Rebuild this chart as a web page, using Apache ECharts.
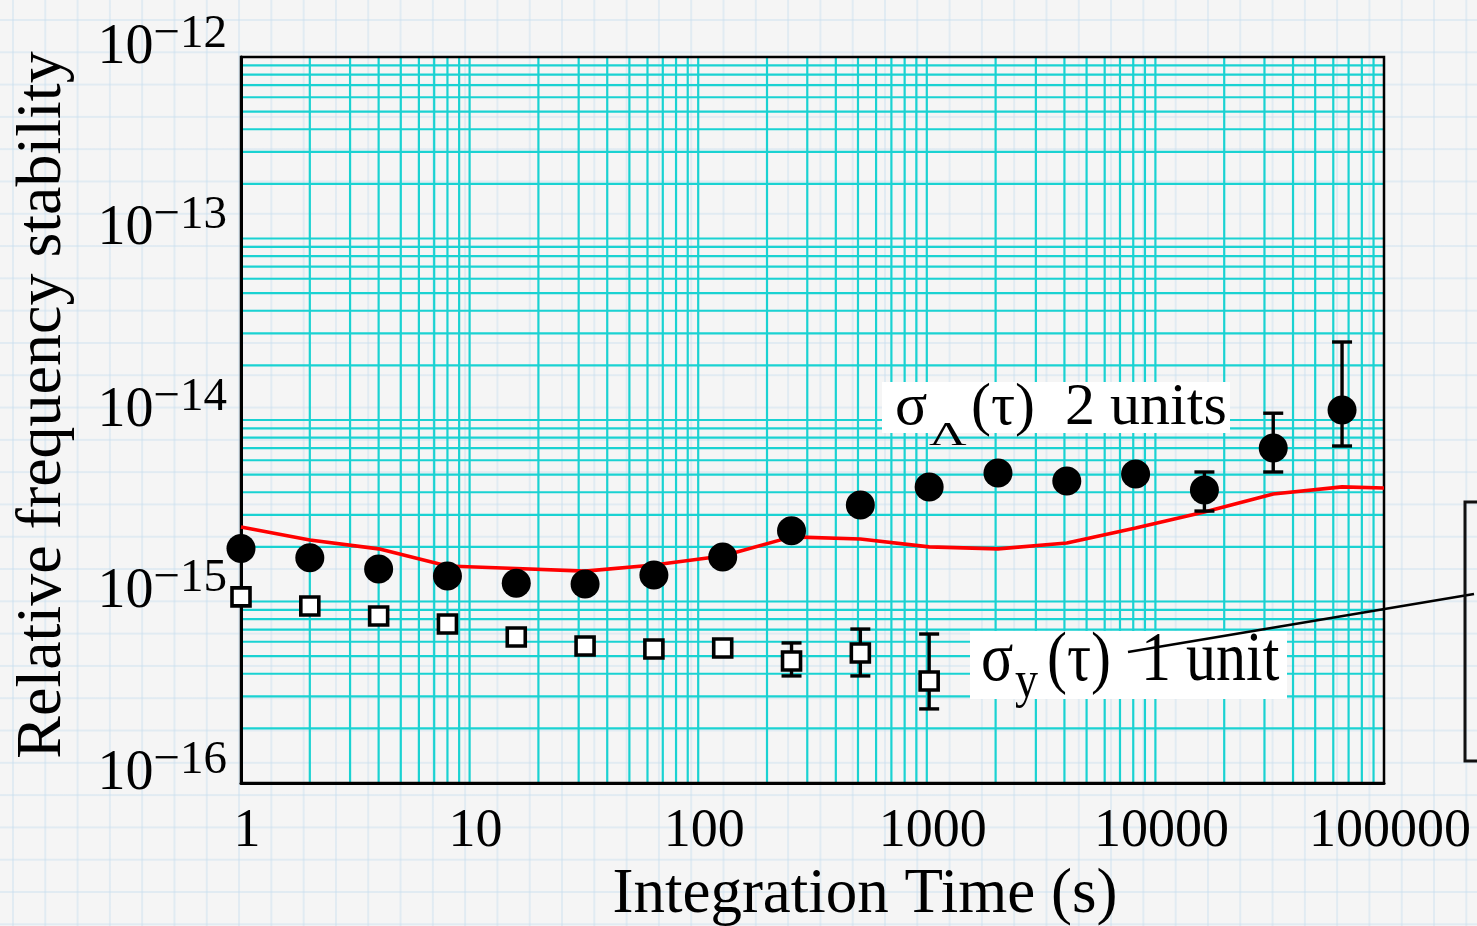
<!DOCTYPE html>
<html><head><meta charset="utf-8">
<script src="https://cdn.jsdelivr.net/npm/echarts@6/dist/echarts.min.js"></script>
<style>
html,body{margin:0;padding:0;}
body{width:1477px;height:926px;overflow:hidden;background-color:#f5f5f5;
background-image:
 linear-gradient(to right, rgba(200,222,238,0.45) 2px, transparent 2px),
 linear-gradient(to bottom, rgba(200,222,238,0.45) 2px, transparent 2px);
background-size:32.3px 32.3px; background-position:12px 19px;}
#chart{width:1477px;height:926px;}
</style></head>
<body><div id="chart"></div>
<script>
// ---- data ----
const tauLambda = [1,2,4,8,16,32,64,128,256,512,1024,2048,4096,8192,16384,32768,65536];
const sigmaLambda = [1.96e-15,1.74e-15,1.51e-15,1.38e-15,1.26e-15,1.25e-15,1.40e-15,1.76e-15,2.45e-15,3.40e-15,4.28e-15,5.10e-15,4.61e-15,5.04e-15,4.12e-15,7.01e-15,1.135e-14];
const errLambdaTau = [16384,32768,65536];
const errLambdaLow = [3.15e-15,5.17e-15,7.19e-15];
const errLambdaHigh = [5.17e-15,1.09e-14,2.69e-14];

const tauY = [1,2,4,8,16,32,64,128,256,512,1024];
const sigmaY = [1.06e-15,9.44e-16,8.32e-16,7.52e-16,6.37e-16,5.69e-16,5.47e-16,5.54e-16,4.70e-16,5.20e-16,3.65e-16];
const errYTau = [256,512,1024];
const errYLow = [3.89e-16,3.89e-16,2.56e-16];
const errYHigh = [5.91e-16,7.05e-16,6.62e-16];

const tauModel = [1,2,4,8,16,32,64,128,256,512,1024,2048,4096,8192,16384,32768,65536,100000];
const sigmaModel = [2.57e-15,2.18e-15,1.95e-15,1.57e-15,1.52e-15,1.47e-15,1.59e-15,1.78e-15,2.27e-15,2.21e-15,2.00e-15,1.95e-15,2.10e-15,2.54e-15,3.11e-15,3.91e-15,4.28e-15,4.22e-15];

const xTickLabels = ['1','10','100','1000','10000','100000'];
const yTickExponents = [-16,-15,-14,-13,-12];

// ---- chart ----
const FONT = '"Liberation Serif","Times New Roman",serif';
const CYAN = '#1ad2d2';
const X_MIN = 1, X_MAX = 100000, Y_MIN = 1e-16, Y_MAX = 1e-12;

const zip = (a, b) => a.map((v, i) => [v, b[i]]);
const zip3 = (a, b, c) => a.map((v, i) => [v, b[i], c[i]]);

// graph-paper grid lines: decades and minor 2..9
const gridLines = []; // [x, y, orientation] 0 = vertical, 1 = horizontal
for (let d = 0; d < 5; d++) for (let k = 1; k <= 9; k++) {
  const v = k * Math.pow(10, d);
  if (v > X_MIN && v < X_MAX) gridLines.push([v, Y_MIN, 0]);
}
for (let d = -16; d < -12; d++) for (let k = 1; k <= 9; k++) {
  const v = k * Math.pow(10, d);
  if (v > Y_MIN * 1.0001) gridLines.push([X_MIN, v, 1]);
}

function gridRender(params, api) {
  const x = api.value(0), y = api.value(1), o = api.value(2);
  let p1, p2;
  if (o === 0) { p1 = api.coord([x, Y_MIN]); p2 = api.coord([x, Y_MAX]); }
  else { p1 = api.coord([X_MIN, y]); p2 = api.coord([X_MAX, y]); }
  return {type: 'line', shape: {x1: p1[0], y1: p1[1], x2: p2[0], y2: p2[1]},
    style: {stroke: CYAN, lineWidth: 2.2}};
}

function errRender(params, api) {
  const x = api.value(0), lo = api.value(1), hi = api.value(2);
  const p1 = api.coord([x, hi]), p2 = api.coord([x, lo]);
  const w = 10;
  const st = {stroke: '#000', lineWidth: 3.4};
  return {type: 'group', children: [
    {type: 'line', shape: {x1: p1[0], y1: p1[1], x2: p2[0], y2: p2[1]}, style: st},
    {type: 'line', shape: {x1: p1[0]-w, y1: p1[1], x2: p1[0]+w, y2: p1[1]}, style: st},
    {type: 'line', shape: {x1: p2[0]-w, y1: p2[1], x2: p2[0]+w, y2: p2[1]}, style: st}
  ]};
}

const chart = echarts.init(document.getElementById('chart'), null, {renderer: 'canvas'});
chart.setOption({
  animation: false,
  backgroundColor: 'transparent',
  grid: {left: 241, top: 57, right: 93, bottom: 143, outerBoundsMode: 'none', containLabel: false,
    show: true, borderColor: '#000', borderWidth: 2.5, backgroundColor: 'transparent', z: 3},
  xAxis: {
    type: 'log', logBase: 10, min: X_MIN, max: X_MAX, z: 3,
    axisLine: {show: true, lineStyle: {color: '#000', width: 3}},
    axisTick: {show: false},
    splitLine: {show: false},
    axisLabel: {
      fontFamily: FONT, fontSize: 54, color: '#000', margin: 22, padding: [0,0,0,12],
      formatter: v => xTickLabels[Math.round(Math.log10(v))]
    },
    name: 'Integration Time (s)', nameLocation: 'middle', nameGap: 79,
    nameTextStyle: {fontFamily: FONT, fontSize: 63, color: '#000', padding: [0,0,0,105]}
  },
  yAxis: {
    type: 'log', logBase: 10, min: Y_MIN, max: Y_MAX, z: 3,
    axisLine: {show: true, lineStyle: {color: '#000', width: 3}},
    axisTick: {show: false},
    splitLine: {show: false},
    axisLabel: {
      margin: 14, padding: [0,0,18,0],
      formatter: v => {
        const e = Math.round(Math.log10(v));
        const idx = yTickExponents.indexOf(e);
        return '{b|10}{s|\u2212' + Math.abs(yTickExponents[idx]) + '}';
      },
      rich: {
        b: {fontFamily: FONT, fontSize: 56, color: '#000', lineHeight: 74},
        s: {fontFamily: FONT, fontSize: 47, color: '#000', lineHeight: 47, verticalAlign: 'top'}
      }
    },
    name: 'Relative frequency stability', nameLocation: 'middle', nameGap: 166,
    nameTextStyle: {fontFamily: FONT, fontSize: 64, color: '#000', padding: [0,0,0,30]}
  },
  series: [
    {
      type: 'custom', renderItem: gridRender, data: gridLines,
      encode: {x: 0, y: 1}, z: 1, silent: true
    },
    {
      type: 'line', data: zip(tauModel, sigmaModel), showSymbol: false, symbol: 'none',
      lineStyle: {color: '#ff0000', width: 3.6}, z: 4, silent: true
    },
    {
      type: 'custom', renderItem: errRender, data: zip3(errLambdaTau, errLambdaLow, errLambdaHigh),
      encode: {x: 0, y: [1, 2]}, z: 5, silent: true
    },
    {
      type: 'custom', renderItem: errRender, data: zip3(errYTau, errYLow, errYHigh),
      encode: {x: 0, y: [1, 2]}, z: 5, silent: true
    },
    {
      type: 'scatter', data: zip(tauLambda, sigmaLambda), symbol: 'circle', symbolSize: 29,
      itemStyle: {color: '#000', opacity: 1}, z: 6, silent: true
    },
    {
      type: 'scatter', data: zip(tauY, sigmaY), symbol: 'rect', symbolSize: 18,
      itemStyle: {color: '#fff', borderColor: '#000', borderWidth: 3.6, opacity: 1}, z: 6, silent: true
    }
  ],
  graphic: [
    {type: 'rect', z: 20, shape: {x: 882, y: 382, width: 348, height: 51}, style: {fill: '#fff'}},
    {type: 'text', z: 21, x: 895, y: 408, style: {text: '\u03c3', fontFamily: FONT, fontSize: 60, fill: '#000', verticalAlign: 'middle'}},
    {type: 'text', z: 21, x: 929, y: 436, scaleY: 0.65, style: {text: '\u039b', fontFamily: FONT, fontSize: 52, fill: '#000', verticalAlign: 'middle'}},
    {type: 'text', z: 21, x: 971, y: 408, style: {text: '(\u03c4)  2 units', fontFamily: FONT, fontSize: 60, fill: '#000', verticalAlign: 'middle'}},

    {type: 'rect', z: 20, shape: {x: 970, y: 631, width: 317, height: 68}, style: {fill: '#fff'}},
    {type: 'text', z: 21, x: 981, y: 662, scaleY: 1.15, style: {text: '\u03c3', fontFamily: FONT, fontSize: 60, fill: '#000', verticalAlign: 'middle'}},
    {type: 'text', z: 21, x: 1015, y: 683, scaleY: 1.15, style: {text: 'y', fontFamily: FONT, fontSize: 46, fill: '#000', verticalAlign: 'middle'}},
    {type: 'text', z: 21, x: 1047, y: 662, scaleY: 1.15, style: {text: '(\u03c4)  1 unit', fontFamily: FONT, fontSize: 60, fill: '#000', verticalAlign: 'middle'}},
    {type: 'line', z: 22, shape: {x1: 1128, y1: 652, x2: 1474, y2: 594}, style: {stroke: '#000', lineWidth: 2.5}},
    {type: 'rect', z: 22, shape: {x: 1465, y: 502, width: 40, height: 259}, style: {fill: 'none', stroke: '#111', lineWidth: 3}}
  ]
});
</script>
</body></html>
